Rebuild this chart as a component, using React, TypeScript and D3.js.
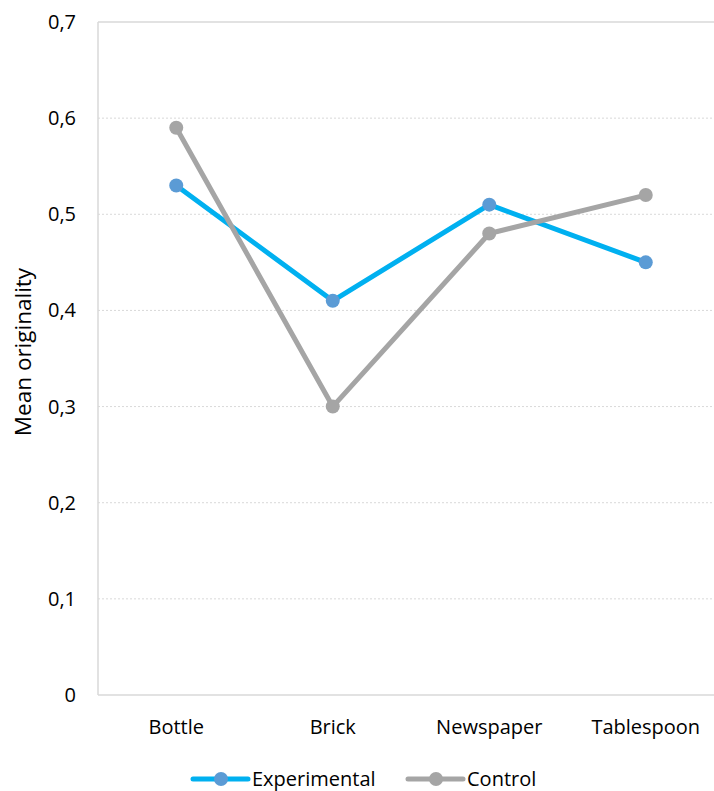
import React from 'react';
import * as d3 from 'd3';

const categories = ['Bottle', 'Brick', 'Newspaper', 'Tablespoon'];
const experimental = [0.53, 0.41, 0.51, 0.45];
const control = [0.59, 0.3, 0.48, 0.52];
const yTicks = [0, 0.1, 0.2, 0.3, 0.4, 0.5, 0.6, 0.7];

const series = [
  { name: 'Experimental', values: experimental, line: '#00B0F0', marker: '#5B9BD5' },
  { name: 'Control', values: control, line: '#A5A5A5', marker: '#A5A5A5' },
];

const W = 714;
const H = 791;
const font = "'Open Sans', sans-serif";
const fs = 20;

const App: React.FC = () => {
  const left = 98;
  const right = 724;
  const top = 22;
  const bottom = 695;

  const x = d3.scaleBand<string>().domain(categories).range([left, right]);
  const y = d3.scaleLinear().domain([0, 0.7]).range([bottom, top]);
  const fmt = (v: number) => (v === 0 ? '0' : d3.format('.1f')(v).replace('.', ','));

  const line = d3
    .line<number>()
    .x((_, i) => (x(categories[i]) as number) + x.bandwidth() / 2)
    .y((d) => y(d));

  const legendX = [193, 408];

  return (
    <svg width={W} height={H} style={{ position: 'absolute', left: 0, top: 0, background: '#fff' }}>
      {yTicks.map((t) =>
        t > 0 && t < 0.7 ? (
          <line key={t} x1={left} x2={right} y1={y(t)} y2={y(t)} stroke="#d9d9d9" strokeWidth={1} strokeDasharray="2,2" />
        ) : null
      )}
      <line x1={left} x2={right} y1={top} y2={top} stroke="#d9d9d9" strokeWidth={1.5} />
      <line x1={left} x2={left} y1={top} y2={bottom} stroke="#d9d9d9" strokeWidth={1.5} />
      <line x1={left} x2={right} y1={bottom} y2={bottom} stroke="#d9d9d9" strokeWidth={1.5} />

      {yTicks.map((t) => (
        <text key={t} x={76} y={y(t)} dy="0.35em" textAnchor="end" fontFamily={font} fontSize={fs} fill="#000">
          {fmt(t)}
        </text>
      ))}
      {categories.map((c) => (
        <text key={c} x={(x(c) as number) + x.bandwidth() / 2} y={727} dy="0.35em" textAnchor="middle" fontFamily={font} fontSize={fs} fill="#000">
          {c}
        </text>
      ))}
      <text transform="translate(23,352) rotate(-90)" textAnchor="middle" dy="0.35em" fontFamily={font} fontSize={22.5} fill="#000">
        Mean originality
      </text>

      {series.map((s) => (
        <g key={s.name}>
          <path d={line(s.values) || ''} fill="none" stroke={s.line} strokeWidth={5} strokeLinejoin="round" />
          {s.values.map((v, i) => (
            <circle key={i} cx={(x(categories[i]) as number) + x.bandwidth() / 2} cy={y(v)} r={7} fill={s.marker} />
          ))}
        </g>
      ))}

      {series.map((s, i) => (
        <g key={s.name} transform={`translate(${legendX[i]},779)`}>
          <line x1={0} x2={55} y1={0} y2={0} stroke={s.line} strokeWidth={5} strokeLinecap="round" />
          <circle cx={28} cy={0} r={7} fill={s.marker} />
          <text x={59} y={0} dy="0.35em" fontFamily={font} fontSize={fs} fill="#000">
            {s.name}
          </text>
        </g>
      ))}
    </svg>
  );
};

export default App;
